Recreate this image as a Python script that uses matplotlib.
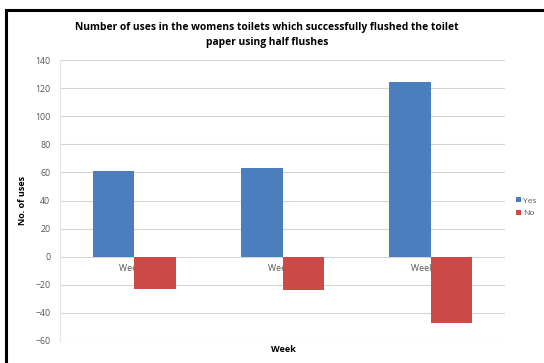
import numpy as np
import matplotlib
matplotlib.use('Agg')
import matplotlib.pyplot as plt
from matplotlib.patches import Rectangle

# Weekly counts of half flushes that cleared the paper
weeks = ['Week 1', 'Week 2', 'Week 1+2']
yes_counts = [61, 63, 124]
no_counts = [-23, -24, -47]

plt.rcParams['font.family'] = ['Open Sans', 'DejaVu Sans']

W, H = 544, 363
fig = plt.figure(figsize=(W / 100, H / 100), dpi=100)
fig.patch.set_facecolor('white')

# Chart frame
fig.patches.append(Rectangle((6 / W, 0 - 0.05), 1.2, (H - 10) / H + 0.05,
                             transform=fig.transFigure, fill=False,
                             edgecolor='black', linewidth=2.2))

ax = fig.add_axes([60 / W, 1 - 341 / H, 445 / W, 281 / H])

index = np.arange(len(weeks))
bar_width = 0.28
ax.bar(index - bar_width / 2, yes_counts, bar_width, color='#4a7ebd', label='Yes', zorder=3)
ax.bar(index + bar_width / 2, no_counts, bar_width, color='#cb4a47', label='No', zorder=3)

ax.set_xlim(-0.5, len(weeks) - 0.5)
ax.set_ylim(-60, 140)
ax.set_yticks(range(-60, 141, 20))
ax.yaxis.grid(True, color='#d4d4d4', linewidth=0.8, zorder=0)
ax.tick_params(axis='y', length=0, labelsize=6.3, labelcolor='#555555', pad=7)
ax.set_xticks([])

for s in ['top', 'right', 'bottom']:
    ax.spines[s].set_visible(False)
ax.spines['left'].set_color('#e4e4e4')
ax.spines['left'].set_linewidth(0.8)

# Category labels sit on the zero line, under the bars
for i, w in enumerate(weeks):
    ax.text(i, -5, w, ha='center', va='top', fontsize=6.3, color='#555555', zorder=1)

ax.set_ylabel('No. of uses', fontsize=6.5, fontweight='bold', labelpad=6)
fig.text(283 / W, 1 - 349 / H, 'Week', ha='center', va='center', fontsize=6.5, fontweight='bold')

fig.text(267 / W, 1 - 35 / H,
         'Number of uses in the womens toilets which successfully flushed the toilet\npaper using half flushes',
         ha='center', va='center', fontsize=7.4, fontweight='bold', linespacing=1.6)

ax.legend(loc='center left', bbox_to_anchor=(508 / 445 - 60 / 445, 1 - (207 - 60) / 281),
          frameon=False, fontsize=6, handlelength=0.6, handleheight=0.6,
          handletextpad=0.3, labelspacing=0.6, labelcolor='#555555')

plt.savefig('out.png', dpi=100)
plt.close()
